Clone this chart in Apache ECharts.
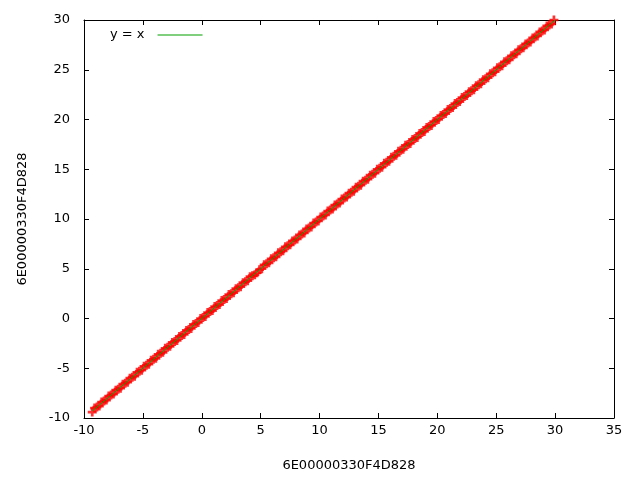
<!DOCTYPE html>
<html><head><meta charset="utf-8">
<script src="https://cdn.jsdelivr.net/npm/echarts@6/dist/echarts.min.js"></script>
<style>html,body{margin:0;padding:0;background:#fff}#c{width:640px;height:480px}</style>
</head><body><div id="c"></div>
<script>
const axisTitle = "6E00000330F4D828";
const legendLabel = "y = x";
const xTicks = [-10, 35, 5];
const yTicks = [-10, 30, 5];
const pointsX = [-9.3,-9.1,-8.9,-8.7,-8.5,-8.3,-8.1,-7.9,-7.7,-7.5,-7.3,-7.1,-6.9,-6.7,-6.5,-6.3,-6.1,-5.9,-5.7,-5.5,-5.3,-5.1,-4.9,-4.7,-4.5,-4.3,-4.1,-3.9,-3.7,-3.5,-3.3,-3.1,-2.9,-2.7,-2.5,-2.3,-2.1,-1.9,-1.7,-1.5,-1.3,-1.1,-0.9,-0.7,-0.5,-0.3,-0.1,0.1,0.3,0.5,0.7,0.9,1.1,1.3,1.5,1.7,1.9,2.1,2.3,2.5,2.7,2.9,3.1,3.3,3.5,3.7,3.9,4.1,4.3,4.5,4.7,4.9,5.1,5.3,5.5,5.7,5.9,6.1,6.3,6.5,6.7,6.9,7.1,7.3,7.5,7.7,7.9,8.1,8.3,8.5,8.7,8.9,9.1,9.3,9.5,9.7,9.9,10.1,10.3,10.5,10.7,10.9,11.1,11.3,11.5,11.7,11.9,12.1,12.3,12.5,12.7,12.9,13.1,13.3,13.5,13.7,13.9,14.1,14.3,14.5,14.7,14.9,15.1,15.3,15.5,15.7,15.9,16.1,16.3,16.5,16.7,16.9,17.1,17.3,17.5,17.7,17.9,18.1,18.3,18.5,18.7,18.9,19.1,19.3,19.5,19.7,19.9,20.1,20.3,20.5,20.7,20.9,21.1,21.3,21.5,21.7,21.9,22.1,22.3,22.5,22.7,22.9,23.1,23.3,23.5,23.7,23.9,24.1,24.3,24.5,24.7,24.9,25.1,25.3,25.5,25.7,25.9,26.1,26.3,26.5,26.7,26.9,27.1,27.3,27.5,27.7,27.9,28.1,28.3,28.5,28.7,28.9,29.1,29.3,29.5,29.7,29.9];
const pointsY = [-9.4,-9.0,-8.9,-8.8,-8.4,-8.3,-8.2,-7.8,-7.7,-7.6,-7.2,-7.1,-7.0,-6.6,-6.5,-6.4,-6.0,-5.9,-5.8,-5.4,-5.3,-5.2,-4.8,-4.7,-4.6,-4.2,-4.1,-4.0,-3.6,-3.5,-3.4,-3.0,-2.9,-2.8,-2.4,-2.3,-2.2,-1.8,-1.7,-1.6,-1.2,-1.1,-1.0,-0.6,-0.5,-0.4,0.0,0.1,0.2,0.6,0.7,0.8,1.2,1.3,1.4,1.8,1.9,2.0,2.4,2.5,2.6,3.0,3.1,3.2,3.6,3.7,3.8,4.2,4.3,4.4,4.6,4.9,5.0,5.4,5.5,5.6,6.0,6.1,6.2,6.6,6.7,6.8,7.2,7.3,7.4,7.8,7.9,8.0,8.4,8.5,8.6,9.0,9.1,9.2,9.6,9.7,9.8,10.2,10.3,10.4,10.8,10.9,11.0,11.4,11.5,11.6,12.0,12.1,12.2,12.6,12.7,12.8,13.2,13.3,13.4,13.8,13.9,14.0,14.4,14.5,14.6,15.0,15.1,15.2,15.6,15.7,15.8,16.2,16.3,16.4,16.8,16.9,17.0,17.4,17.5,17.6,18.0,18.1,18.2,18.6,18.7,18.8,19.2,19.3,19.4,19.8,19.9,20.0,20.4,20.5,20.6,21.0,21.1,21.2,21.6,21.7,21.8,22.2,22.3,22.4,22.8,22.9,23.0,23.4,23.5,23.6,24.0,24.1,24.2,24.6,24.7,24.8,25.2,25.3,25.4,25.8,25.9,26.0,26.4,26.5,26.6,27.0,27.1,27.2,27.6,27.7,27.8,28.2,28.3,28.4,28.8,28.9,29.0,29.4,29.5,29.6,30.0];
const lineX = [-9.3, 30];
const lineY = [-9.3, 30];

const scatterData = [];
for (let i = 0; i < pointsX.length && i < pointsY.length; i++) scatterData.push([pointsX[i], pointsY[i]]);
const lineData = lineX.map((x, i) => [x, lineY[i]]);
const font = 'DejaVu Sans, sans-serif';
const axBase = (pos, range, show, name, gap, margin) => ({
  type: 'value', position: pos, min: range[0], max: range[1], interval: range[2],
  name: show ? name : '', nameLocation: 'middle', nameGap: gap,
  nameTextStyle: {color: '#000', fontSize: 13, fontFamily: font},
  axisLine: {show: true, onZero: false, lineStyle: {color: '#000', width: 1}},
  axisTick: {show: true, inside: true, length: 5, lineStyle: {color: '#000'}},
  axisLabel: {show: show, color: '#000', fontSize: 13, fontFamily: font, margin: margin},
  splitLine: {show: false}
});
const chart = echarts.init(document.getElementById('c'), null, {renderer: 'canvas'});
chart.setOption({
  animation: false,
  backgroundColor: '#fff',
  grid: {left: 84, right: 26, top: 20, bottom: 62},
  xAxis: [axBase('bottom', xTicks, true, axisTitle, 41, 6), axBase('top', xTicks, false, '', 0, 0)],
  yAxis: [axBase('left', yTicks, true, axisTitle, 55, 14), axBase('right', yTicks, false, '', 0, 0)],
  legend: {
    data: [legendLabel], left: 105, top: 23.5, align: 'right',
    itemWidth: 45, itemHeight: 1, icon: 'rect', itemGap: 10,
    textStyle: {color: '#000', fontSize: 13, fontFamily: font, padding: [0, 8, 0, 0]}
  },
  series: [
    {type: 'scatter', name: 'pts', data: scatterData, symbol: 'path://M2.8,0H5.2V2.8H8V5.2H5.2V8H2.8V5.2H0V2.8H2.8Z',
     symbolSize: 9, itemStyle: {color: '#ff0000'}, z: 2},
    {type: 'line', name: legendLabel, data: lineData, showSymbol: false, symbol: 'none',
     lineStyle: {color: '#00a000', width: 1}, itemStyle: {color: '#00a000'}, z: 3}
  ]
});
</script></body></html>
